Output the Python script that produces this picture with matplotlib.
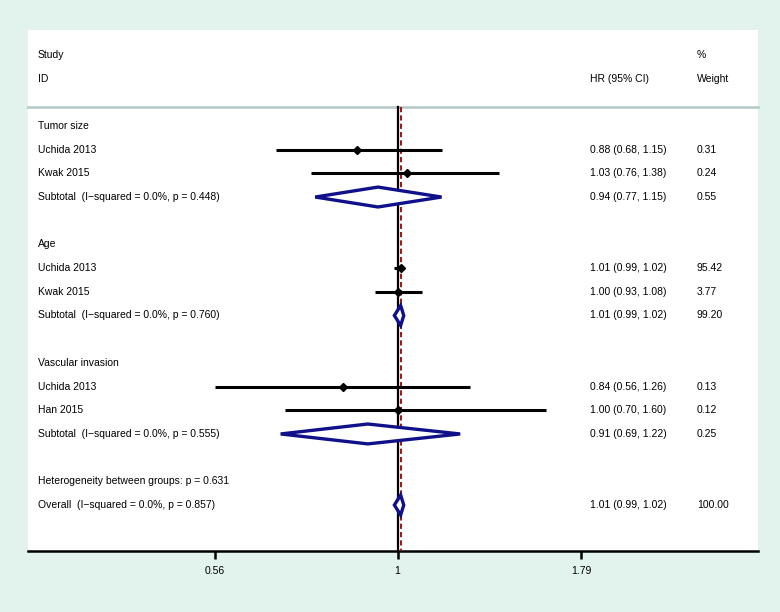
import numpy as np
import matplotlib
matplotlib.use("Agg")
import matplotlib.pyplot as plt
import matplotlib.transforms as mtransforms

plt.rcParams['font.family'] = ['Liberation Sans', 'DejaVu Sans']

# rows of the forest plot (top to bottom)
labels = ["Tumor size", "Uchida 2013", "Kwak 2015", "Subtotal  (I\u2212squared = 0.0%, p = 0.448)", "",
          "Age", "Uchida 2013", "Kwak 2015", "Subtotal  (I\u2212squared = 0.0%, p = 0.760)", "",
          "Vascular invasion", "Uchida 2013", "Han 2015", "Subtotal  (I\u2212squared = 0.0%, p = 0.555)", "",
          "Heterogeneity between groups: p = 0.631", "Overall  (I\u2212squared = 0.0%, p = 0.857)"]
# kind: h = heading, s = study, d = pooled diamond
kinds = ["h", "s", "s", "d", "",
         "h", "s", "s", "d", "",
         "h", "s", "s", "d", "",
         "h", "d"]
hr = [None, 0.88, 1.03, 0.94, None,
      None, 1.01, 1.00, 1.01, None,
      None, 0.84, 1.00, 0.91, None,
      None, 1.01]
lo = [None, 0.68, 0.76, 0.77, None,
      None, 0.99, 0.93, 0.99, None,
      None, 0.56, 0.70, 0.69, None,
      None, 0.99]
hi = [None, 1.15, 1.38, 1.15, None,
      None, 1.02, 1.08, 1.02, None,
      None, 1.26, 1.60, 1.22, None,
      None, 1.02]
weights = ["", "0.31", "0.24", "0.55", "",
           "", "95.42", "3.77", "99.20", "",
           "", "0.13", "0.12", "0.25", "",
           "", "100.00"]
xticks = [0.56, 1, 1.79]
overall = 1.01

fig = plt.figure(figsize=(7.8, 6.12), dpi=100)
fig.patch.set_facecolor("#e1f3ec")
ax = fig.add_axes([28/780, 1 - 551/612, 730/780, 521/612])
ax.set_facecolor("white")
ax.set_xscale("log")
ax.set_xlim(0.3094, 3.1406)
ax.set_ylim(17.94, -4.05)

tr = mtransforms.blended_transform_factory(ax.transAxes, ax.transData)
fs = 7.5

# header
ax.text(0.0133, -3, "Study", transform=tr, fontsize=fs, va="center")
ax.text(0.0133, -2, "ID", transform=tr, fontsize=fs, va="center")
ax.text(0.770, -2, "HR (95% CI)", transform=tr, fontsize=fs, va="center")
ax.text(0.9164, -3, "%", transform=tr, fontsize=fs, va="center")
ax.text(0.9164, -2, "Weight", transform=tr, fontsize=fs, va="center")
ax.plot([0, 1], [-0.8, -0.8], transform=tr, color="#b3c7c6", lw=1.8, clip_on=False)

# reference lines
ax.plot([1, 1], [-0.8, 17.94], color="black", lw=1.6, zorder=2)
ax.plot([overall, overall], [-0.8, 17.94], color="#9b1c1c", lw=1.5,
        ls=(0, (2.5, 1.5)), zorder=3)

for i, lab in enumerate(labels):
    if lab:
        ax.text(0.0133, i, lab, transform=tr, fontsize=fs, va="center")
    if kinds[i] == "s":
        ax.plot([lo[i], hi[i]], [i, i], color="black", lw=2.2, zorder=4, solid_capstyle="butt")
        ax.plot(hr[i], i, marker="D", color="black", ms=4.5, zorder=5)
    elif kinds[i] == "d":
        h = 0.42
        ax.fill([lo[i], hr[i], hi[i], hr[i]], [i, i - h, i, i + h],
                facecolor="white", edgecolor="#10108a", lw=2.4, zorder=6)
    if hr[i] is not None:
        ax.text(0.770, i, f"{hr[i]:.2f} ({lo[i]:.2f}, {hi[i]:.2f})", transform=tr,
                fontsize=fs, va="center")
        ax.text(0.9164, i, weights[i], transform=tr, fontsize=fs, va="center")

for s in ["top", "left", "right"]:
    ax.spines[s].set_visible(False)
ax.spines["bottom"].set_linewidth(1.8)
ax.set_yticks([])
ax.set_xticks(xticks)
ax.set_xticklabels(["0.56", "1", "1.79"])
ax.xaxis.set_minor_locator(matplotlib.ticker.NullLocator())
ax.tick_params(axis="x", direction="out", length=6, width=1.8, labelsize=fs, pad=5)

fig.savefig("out.png", dpi=100, facecolor=fig.get_facecolor())
